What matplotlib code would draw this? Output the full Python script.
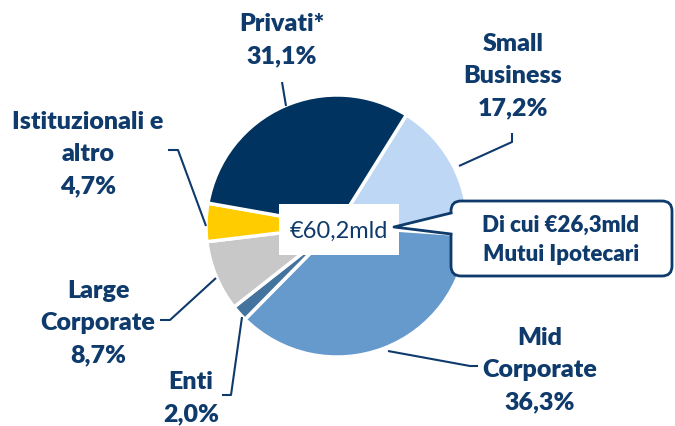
import matplotlib.pyplot as plt
from matplotlib.patches import FancyBboxPatch, Rectangle, Polygon

plt.rcParams['font.family'] = ['Lato', 'DejaVu Sans']

# dati (ordine orario partendo da Small Business)
categories = ['Small\nBusiness', 'Mid\nCorporate', 'Enti', 'Large\nCorporate',
              'Istituzionali e\naltro', 'Privati*']
values = [17.2, 36.3, 2.0, 8.7, 4.7, 31.1]
colors = ['#BDD7F5', '#6699CC', '#44749D', '#C8C8C8', '#FFCC00', '#00335F']
explode = [0.02, 0.03, 0.03, 0.02, 0.04, 0.02]
total_label = '€60,2mld'
callout_label = 'Di cui €26,3mld\nMutui Ipotecari'

W, H = 675, 427
navy = '#0E3A6C'


def Y(y):
    return H - y


fig = plt.figure(figsize=(W / 100, H / 100), dpi=100)
ax = fig.add_axes([0, 0, 1, 1])

ax.pie(values, colors=colors, explode=explode, startangle=58, counterclock=False,
       center=(337, Y(227)), radius=131,
       wedgeprops=dict(edgecolor='white', linewidth=2.5))
ax.set_xlim(0, W)
ax.set_ylim(0, H)
ax.set_aspect('equal')
ax.axis('off')

# etichette: (x, y centro, linee guida)
label_pos = [
    (513, 76, [(512, 134), (512, 143), (459, 167)]),
    (540, 370, [(478, 367), (470, 367), (388, 352)]),
    (191, 398, [(222, 396), (231, 396), (242, 318)]),
    (98, 323, [(160, 321), (170, 321), (216, 279)]),
    (88, 154, [(168, 151), (178, 151), (206, 227)]),
    (282, 40, [(282, 83), (286, 107)]),
]
for cat, v, (lx, ly, pts) in zip(categories, values, label_pos):
    txt = cat + '\n' + f'{v:.1f}%'.replace('.', ',')
    ax.text(lx, Y(ly), txt, ha='center', va='center', fontsize=18,
            fontweight='heavy', color=navy, linespacing=1.58)
    ax.plot([p[0] for p in pts], [Y(p[1]) for p in pts], color=navy, lw=1.5,
            solid_capstyle='butt', zorder=3)

# box centrale
ax.add_patch(Rectangle((279, Y(256)), 120, 51, facecolor='white',
                       edgecolor='none', zorder=4))
ax.text(339, Y(231), total_label, ha='center', va='center', fontsize=17,
        color=navy, zorder=5)

# callout
ax.add_patch(FancyBboxPatch((451, Y(277)), 221, 75,
                            boxstyle='round,pad=0,rounding_size=10',
                            facecolor='white', edgecolor=navy, lw=2, zorder=5))
ax.add_patch(Polygon([(455, Y(214)), (394, Y(228)), (455, Y(235))],
                     closed=True, facecolor='white', edgecolor='none', zorder=6))
ax.plot([451, 394, 451], [Y(214), Y(228), Y(235)], color=navy, lw=2, zorder=6)
ax.text(561, Y(240), callout_label, ha='center', va='center', fontsize=16,
        fontweight='heavy', color=navy, linespacing=1.5, zorder=7)

fig.savefig('out.png', dpi=100)
